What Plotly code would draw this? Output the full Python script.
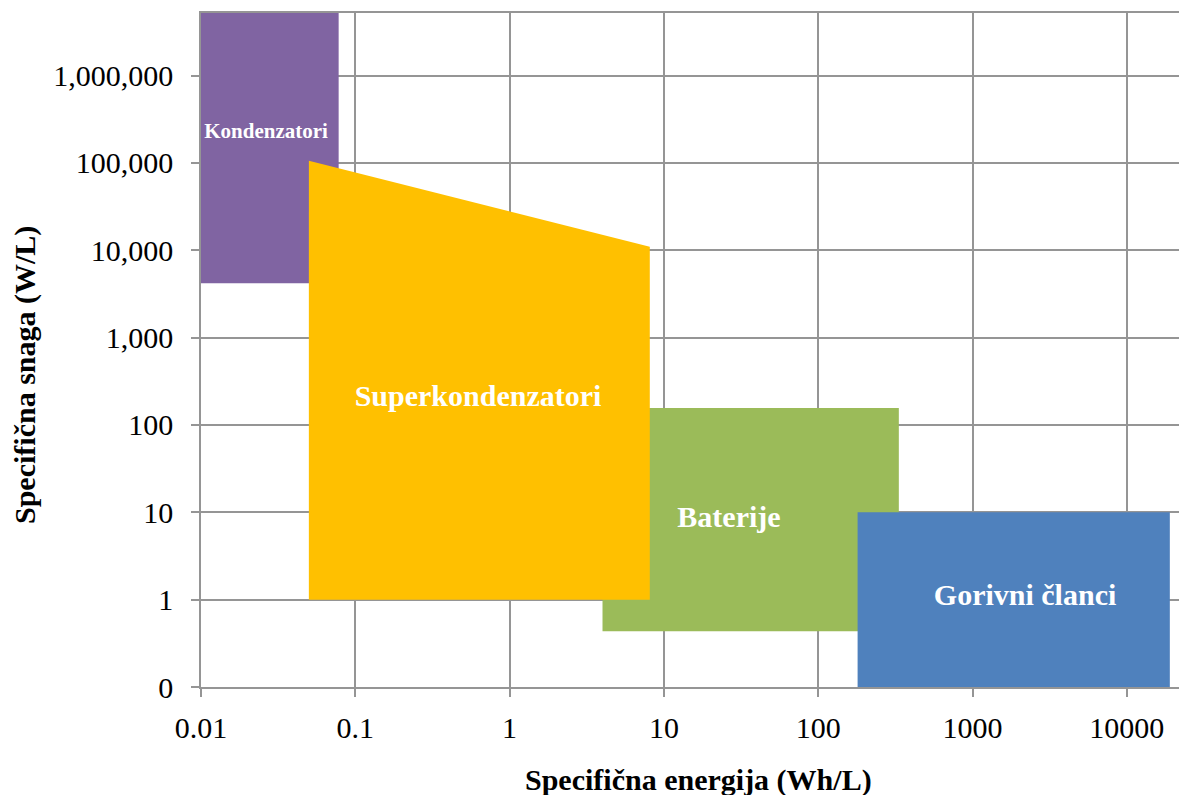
import plotly.graph_objects as go

# Regions (energy Wh/L on x, power W/L on y)
kond_x = [0.01, 0.078, 0.078, 0.01]
kond_y = [4200, 4200, 1e7, 1e7]

super_x = [0.05, 0.05, 8.1, 8.1]
super_y = [1, 106000, 11000, 1]

bat_x = [4.0, 333, 333, 4.0]
bat_y = [0.434, 0.434, 156, 156]

gor_x = [180, 19000, 19000, 180]
gor_y = [0.1, 0.1, 10, 10]

labels = ["Kondenzatori", "Superkondenzatori", "Baterije", "Gorivni članci"]
label_x = [0.0264, 0.624, 26.4, 2190]
label_y = [220000, 200, 8.2, 1.05]
label_size = [21, 30, 30, 30]

x_tickvals = [0.01, 0.1, 1, 10, 100, 1000, 10000]
x_ticktext = ["0.01", "0.1", "1", "10", "100", "1000", "10000"]
y_tickvals = [0.1, 1, 10, 100, 1000, 10000, 100000, 1000000]
y_ticktext = ["0", "1", "10", "100", "1,000", "10,000", "100,000", "1,000,000"]

colors = ["#8064A2", "#FFC000", "#9BBB59", "#4F81BD"]
font = "Liberation Serif, Times New Roman, serif"

fig = go.Figure()
for xs, ys, c in [(kond_x, kond_y, colors[0]), (bat_x, bat_y, colors[2]),
                  (super_x, super_y, colors[1]), (gor_x, gor_y, colors[3])]:
    fig.add_trace(go.Scatter(x=xs, y=ys, fill="toself", fillcolor=c, mode="lines",
                             line=dict(width=0, color=c), hoverinfo="skip", showlegend=False))

for t, x, y, s in zip(labels, label_x, label_y, label_size):
    fig.add_trace(go.Scatter(x=[x], y=[y], mode="text", text=["<b>%s</b>" % t],
                             textfont=dict(family=font, size=s, color="white"),
                             textposition="middle center", showlegend=False, hoverinfo="skip"))

grid = "#959595"
fig.update_xaxes(type="log", range=[-2, 4.39], tickvals=x_tickvals, ticktext=x_ticktext,
                 showgrid=True, gridcolor=grid, gridwidth=1.5, showline=True, linecolor=grid,
                 linewidth=1.5, mirror=True, ticks="outside", ticklen=8, tickcolor=grid,
                 tickwidth=1.5, ticklabelstandoff=5,
                 tickfont=dict(family=font, size=30, color="black"), zeroline=False)
fig.update_yaxes(type="log", range=[-1, 6.716], tickvals=y_tickvals, ticktext=y_ticktext,
                 showgrid=True, gridcolor=grid, gridwidth=1.5, showline=True, linecolor=grid,
                 linewidth=1.5, ticks="outside", ticklen=8, tickcolor=grid, tickwidth=1.5,
                 ticklabelstandoff=12,
                 tickfont=dict(family=font, size=30, color="black"), zeroline=False)

# page offset of 8px (body margin) is compensated in the margins
fig.add_annotation(text="<b>Specifična energija (Wh/L)</b>", xref="paper", yref="paper",
                   x=(698 - 201) / 986, y=-(780 - 687) / 674, showarrow=False,
                   font=dict(family=font, size=30, color="black"), xanchor="center", yanchor="middle")
fig.add_annotation(text="<b>Specifična snaga (W/L)</b>", xref="paper", yref="paper",
                   x=-(201 - 25) / 986, y=(687 - 375) / 674, showarrow=False, textangle=-90,
                   font=dict(family=font, size=30, color="black"), xanchor="center", yanchor="middle")

fig.update_layout(width=1179, height=787, margin=dict(l=193, r=0, t=5, b=108),
                  plot_bgcolor="white", paper_bgcolor="white")
fig.write_html("out.html")
